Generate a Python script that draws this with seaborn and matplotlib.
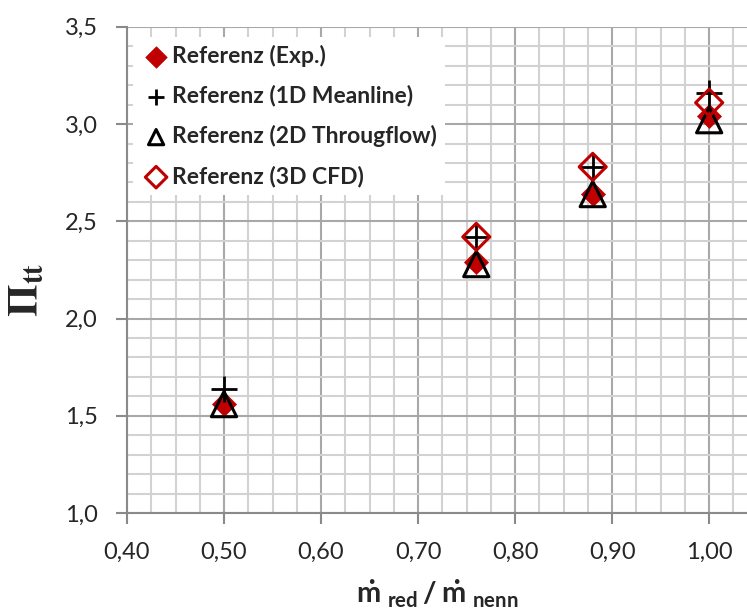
import matplotlib.pyplot as plt
import matplotlib.ticker as mticker
import numpy as np
import pandas as pd
import seaborn as sns

sns.set_style("ticks")
plt.rcParams["font.family"] = ["Lato", "DejaVu Sans"]
plt.rcParams["mathtext.rm"] = "Lato"
plt.rcParams["mathtext.bf"] = "Lato:bold"

# Werte
mass_flow = [0.50, 0.76, 0.88, 1.00]
pi_exp = [1.56, 2.29, 2.64, 3.04]
pi_1d = [1.64, 2.42, 2.78, 3.16]
pi_2d = [1.56, 2.28, 2.64, 3.02]
pi_3d = [np.nan, 2.42, 2.78, 3.11]

red = "#c00000"

df = pd.DataFrame({"m": mass_flow, "exp": pi_exp, "d1": pi_1d,
                   "d2": pi_2d, "d3": pi_3d})

fig = plt.figure(figsize=(7.47, 6.10), dpi=100)
ax = fig.add_axes([0.170, 0.159, 0.830, 0.797])

sns.scatterplot(data=df, x="m", y="exp", marker="D", s=150, color=red,
                edgecolor=red, linewidth=0.5, label="Referenz (Exp.)",
                ax=ax, zorder=3)
sns.scatterplot(data=df, x="m", y="d1", marker="+", s=330, color="black",
                linewidth=2, label="Referenz (1D Meanline)", ax=ax, zorder=4)
sns.scatterplot(data=df, x="m", y="d2", marker="^", s=330, facecolor="none",
                edgecolor="black", linewidth=2.2,
                label="Referenz (2D Througflow)", ax=ax, zorder=5)
sns.scatterplot(data=df, x="m", y="d3", marker="D", s=190, facecolor="none",
                edgecolor=red, linewidth=2.2, label="Referenz (3D CFD)",
                ax=ax, zorder=6)

ax.set_xlim(0.40, 1.039)
ax.set_ylim(1.0, 3.5)
ax.xaxis.set_major_locator(mticker.MultipleLocator(0.1))
ax.xaxis.set_minor_locator(mticker.MultipleLocator(0.025))
ax.yaxis.set_major_locator(mticker.MultipleLocator(0.5))
ax.yaxis.set_minor_locator(mticker.MultipleLocator(0.1))
ax.xaxis.set_major_formatter(
    mticker.FuncFormatter(lambda v, p: f"{v:.2f}".replace(".", ",")))
ax.yaxis.set_major_formatter(
    mticker.FuncFormatter(lambda v, p: f"{v:.1f}".replace(".", ",")))

ax.grid(which="major", color="#a8a8a8", linewidth=1.5)
ax.grid(which="minor", color="#d2d2d2", linewidth=1.5)
ax.set_axisbelow(True)

for side in ["top", "right"]:
    ax.spines[side].set_visible(False)
for side in ["left", "bottom"]:
    ax.spines[side].set_color("#8a8a8a")
    ax.spines[side].set_linewidth(1.5)
ax.tick_params(which="major", length=8, width=1.5, color="#8a8a8a",
               labelsize=17, pad=13)
ax.tick_params(which="minor", length=0)

ax.set_xlabel(r"$\mathbf{\dot{m}}_{\ \mathbf{red}}\,\mathbf{/}\,\mathbf{\dot{m}}_{\ \mathbf{nenn}}$",
              fontsize=21, math_fontfamily="custom")
ax.xaxis.set_label_coords(0.5, -0.133)
ax.set_ylabel(r"$\mathbf{\Pi}_{\mathbf{tt}}$", fontsize=30,
              math_fontfamily="stix")
ax.yaxis.set_label_coords(-0.13, 0.46)

leg = ax.legend(loc="upper left", bbox_to_anchor=(0.01, 0.98),
                frameon=True, framealpha=1, edgecolor="white",
                fancybox=False, borderpad=0.35, labelspacing=0.8,
                handletextpad=0.05, handlelength=1.3, borderaxespad=0,
                prop={"family": "Lato", "weight": "bold", "size": 16.5})
leg.get_frame().set_linewidth(0)
for h in leg.legend_handles:
    h.set_sizes([120])

fig.savefig("out.png", dpi=100)
